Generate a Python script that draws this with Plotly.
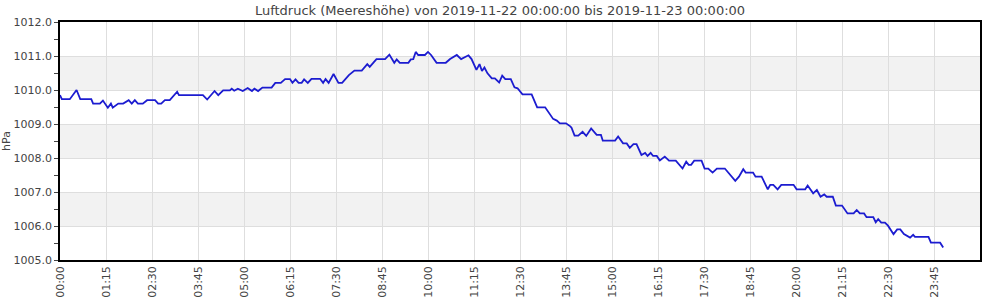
import pandas as pd
import plotly.graph_objects as go

# Time of each reading (HH:MM on 2019-11-22; 24:00 = next midnight)
times = [
    "00:00", "00:03", "00:16", "00:27", "00:33", "00:51", "00:54", "01:05", "01:10", "01:18",
    "01:23", "01:26", "01:35", "01:43", "01:52", "01:57", "02:02", "02:07", "02:15", "02:22",
    "02:35", "02:40", "02:45", "02:51", "02:59", "03:11", "03:14", "03:53", "04:00",
    "04:12", "04:18", "04:26", "04:37", "04:40", "04:44", "04:50", "04:58", "05:06", "05:13",
    "05:17", "05:23", "05:30", "05:45", "05:51", "06:00", "06:07", "06:15", "06:19", "06:24",
    "06:29", "06:34", "06:38", "06:44", "06:50", "07:04", "07:09", "07:13", "07:18", "07:26",
    "07:34", "07:40", "07:47", "07:51", "08:00",
    "08:12", "08:21", "08:25", "08:36", "08:50", "08:57", "09:05", "09:09", "09:14", "09:28",
    "09:32", "09:36", "09:40", "09:44", "09:55", "10:00", "10:05", "10:14", "10:29", "10:36",
    "10:47", "10:54", "11:06", "11:11", "11:19", "11:24", "11:28", "11:32", "11:37", "11:44",
    "11:49", "11:56", "12:01", "12:06",
    "12:15", "12:21", "12:26", "12:34", "12:49", "12:58", "13:11", "13:24", "13:30", "13:35",
    "13:45", "13:52", "13:54", "13:59", "14:05", "14:12", "14:18", "14:26", "14:35", "14:42",
    "14:45", "15:05", "15:10", "15:18", "15:24", "15:29", "15:35", "15:40", "15:48", "15:54",
    "15:58", "16:03", "16:07", "16:13",
    "16:18", "16:26", "16:33", "16:44", "16:55", "17:01", "17:05", "17:09", "17:14", "17:26",
    "17:31", "17:37", "17:44", "17:51", "18:04", "18:21", "18:27", "18:34", "18:38", "18:50",
    "18:54", "19:04", "19:14", "19:18", "19:23", "19:30", "19:36", "19:56", "20:01", "20:15",
    "20:19", "20:28", "20:34", "20:40", "20:46", "20:50", "21:00", "21:05", "21:15", "21:24",
    "21:34", "21:39", "21:44", "21:51", "21:55", "22:06", "22:10", "22:14", "22:19", "22:25",
    "22:30", "22:39", "22:45", "22:50", "22:56", "23:06", "23:11", "23:14", "23:36", "23:40",
    "23:55", "24:00",
]

# Air pressure (hPa)
pressure = [
    1009.85, 1009.73, 1009.73, 1010.00, 1009.73, 1009.73, 1009.60, 1009.60, 1009.69, 1009.48,
    1009.60, 1009.48, 1009.60, 1009.60, 1009.70, 1009.60, 1009.70, 1009.60, 1009.60, 1009.70,
    1009.70, 1009.60, 1009.60, 1009.70, 1009.70, 1009.95, 1009.85, 1009.85, 1009.72,
    1009.97, 1009.85, 1009.99, 1009.99, 1010.04, 1009.98, 1010.04, 1009.97, 1010.06, 1009.97,
    1010.04, 1009.97, 1010.07, 1010.07, 1010.21, 1010.21, 1010.32, 1010.32, 1010.21, 1010.31,
    1010.21, 1010.21, 1010.31, 1010.21, 1010.33, 1010.33, 1010.21, 1010.32, 1010.21, 1010.47,
    1010.21, 1010.21, 1010.35, 1010.44, 1010.57,
    1010.57, 1010.76, 1010.68, 1010.91, 1010.91, 1011.04, 1010.80, 1010.90, 1010.80, 1010.80,
    1010.90, 1010.91, 1011.12, 1011.03, 1011.03, 1011.12, 1011.03, 1010.80, 1010.80, 1010.91,
    1011.03, 1010.91, 1011.02, 1010.91, 1010.59, 1010.76, 1010.56, 1010.66, 1010.49, 1010.34,
    1010.34, 1010.22, 1010.42, 1010.32,
    1010.32, 1010.08, 1010.05, 1009.87, 1009.87, 1009.49, 1009.49, 1009.15, 1009.10, 1009.02,
    1009.02, 1008.93, 1008.89, 1008.66, 1008.66, 1008.77, 1008.65, 1008.87, 1008.68, 1008.68,
    1008.51, 1008.51, 1008.63, 1008.43, 1008.43, 1008.30, 1008.41, 1008.41, 1008.09, 1008.15,
    1008.06, 1008.15, 1008.06, 1008.06,
    1007.93, 1008.04, 1007.92, 1007.92, 1007.69, 1007.89, 1007.80, 1007.80, 1007.92, 1007.92,
    1007.69, 1007.69, 1007.57, 1007.69, 1007.69, 1007.33, 1007.45, 1007.67, 1007.57, 1007.57,
    1007.45, 1007.45, 1007.08, 1007.21, 1007.21, 1007.08, 1007.21, 1007.21, 1007.08, 1007.08,
    1007.19, 1006.96, 1007.06, 1006.86, 1006.93, 1006.86, 1006.86, 1006.60, 1006.60, 1006.37,
    1006.37, 1006.47, 1006.37, 1006.37, 1006.26, 1006.26, 1006.11, 1006.20, 1006.10, 1006.10,
    1006.01, 1005.76, 1005.90, 1005.90, 1005.76, 1005.66, 1005.74, 1005.68, 1005.68, 1005.51,
    1005.51, 1005.37,
]

# X-axis tick labels
tick_labels = [
    "00:00", "01:15", "02:30", "03:45", "05:00", "06:15", "07:30", "08:45", "10:00", "11:15",
    "12:30", "13:45", "15:00", "16:15", "17:30", "18:45", "20:00", "21:15", "22:30", "23:45",
]

# Shaded bands (hPa ranges)
bands = [(1010, 1011), (1008, 1009), (1006, 1007)]


def to_time(hhmm):
    base = pd.Timestamp("2019-11-22 00:00:00")
    return base + pd.Timedelta(minutes=int(hhmm[:2]) * 60 + int(hhmm[3:]))


x = [to_time(t) for t in times]
tick_positions = [to_time(t) for t in tick_labels]

fig = go.Figure()
fig.add_trace(go.Scatter(
    x=x, y=pressure, mode="lines",
    line=dict(color="#1c1cd0", width=1.8),
    hoverinfo="skip", showlegend=False,
))

for lo, hi in bands:
    fig.add_shape(type="rect", xref="paper", yref="y", x0=0, x1=1, y0=lo, y1=hi,
                  fillcolor="#f2f2f2", line_width=0, layer="below")

font = "DejaVu Sans, sans-serif"
fig.update_layout(
    width=1000, height=300,
    margin=dict(l=60, r=20, t=22, b=40, autoexpand=False),
    paper_bgcolor="white", plot_bgcolor="white",
    font=dict(family=font, size=11, color="#444"),
    title=dict(
        text="Luftdruck (Meereshöhe) von 2019-11-22 00:00:00 bis 2019-11-23 00:00:00",
        x=0.5, xanchor="center", xref="container", y=1 - 10 / 300, yanchor="middle", yref="container",
        font=dict(family=font, size=13, color="#444"),
        automargin=False,
    ),
)
fig.update_xaxes(
    range=["2019-11-22 00:00:00", "2019-11-23 01:00:00"],
    tickvals=tick_positions, ticktext=tick_labels,
    tickangle=-90, showgrid=True, gridcolor="#dedede", gridwidth=1,
    showline=True, linecolor="black", linewidth=1.5, mirror=True,
    ticks="", zeroline=False, automargin=False,
    tickfont=dict(family=font, size=11, color="#444"),
)
fig.update_yaxes(
    range=[1005, 1012], dtick=1, tickformat=".1f",
    showgrid=True, gridcolor="#dedede", gridwidth=1,
    showline=True, linecolor="black", linewidth=1.5, mirror=True,
    ticks="outside", ticklen=4, tickcolor="#444",
    minor=dict(dtick=0.5, ticks="outside", ticklen=4, tickcolor="#444", showgrid=False),
    zeroline=False, automargin=False,
    title=dict(text="hPa", font=dict(family=font, size=11, color="#444"), standoff=3),
    tickfont=dict(family=font, size=11, color="#444"),
)

fig.write_html("out.html")
